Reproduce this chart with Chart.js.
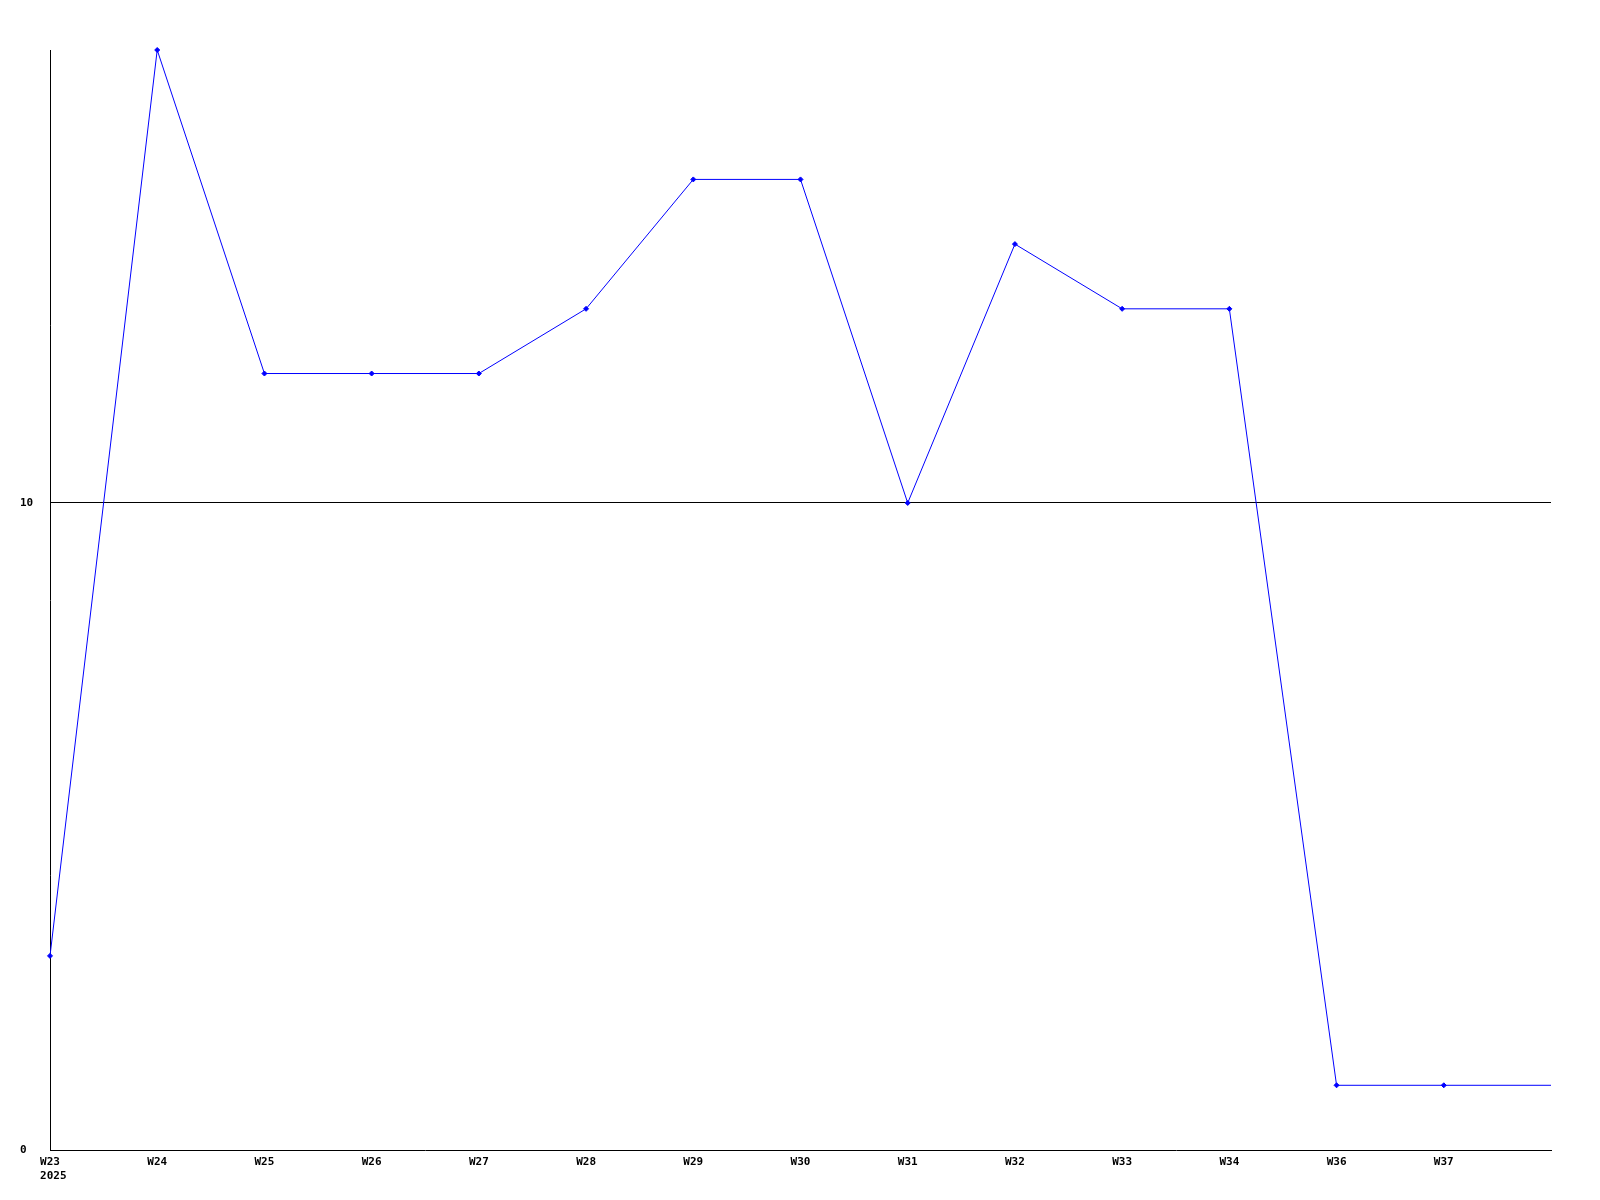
<!DOCTYPE html>
<html lang="en">
<head>
<meta charset="UTF-8">
<script src="https://cdn.jsdelivr.net/npm/chart.js"></script>
<style>
html, body { margin: 0; padding: 0; background: #fff; }
#chart { display: block; }
</style>
</head>
<body>
<canvas id="chart" width="1600" height="1200"></canvas>
<script>
// weeks on the x axis (W35 is absent in the source), last one runs off the right edge
const weeks = ['W23', 'W24', 'W25', 'W26', 'W27', 'W28', 'W29', 'W30', 'W31', 'W32', 'W33', 'W34', 'W36', 'W37', 'W38'];
const values = [3, 17, 12, 12, 12, 13, 15, 15, 10, 14, 13, 13, 1, 1, 1];
const yearLabel = ' 2025';
const yTicks = [0, 10];

const font = { family: 'DejaVu Sans Mono', size: 11, weight: 'bold' };
const last = weeks.length - 1;

new Chart(document.getElementById('chart'), {
    type: 'line',
    data: {
        labels: weeks,
        datasets: [{
            data: values,
            borderColor: '#0000ff',
            backgroundColor: '#0000ff',
            borderWidth: 1,
            tension: 0,
            clip: false,
            pointStyle: 'rectRot',
            pointRadius: ctx => ctx.dataIndex === last ? 0 : 2.5,
            pointBorderWidth: 1
        }]
    },
    options: {
        responsive: false,
        animation: false,
        events: [],
        layout: { padding: { left: 20, top: 50, right: 49, bottom: 0 } },
        plugins: { legend: { display: false }, tooltip: { enabled: false } },
        scales: {
            x: {
                offset: false,
                grid: { display: false, drawTicks: false },
                border: { display: true, color: '#000', width: 1 },
                ticks: {
                    color: '#000',
                    font: font,
                    padding: 6,
                    maxRotation: 0,
                    autoSkip: false,
                    callback: function (v, i) {
                        if (i === last) return '';
                        if (i === 0) return [weeks[i], yearLabel];
                        return weeks[i];
                    }
                },
                afterFit: s => { s.height = 50; }
            },
            y: {
                min: 0,
                max: 17,
                afterBuildTicks: s => { s.ticks = yTicks.map(v => ({ value: v })); },
                grid: {
                    drawTicks: false,
                    lineWidth: 1,
                    color: ctx => (ctx.tick && ctx.tick.value === 10) ? '#000' : 'rgba(0,0,0,0)'
                },
                border: { display: true, color: '#000', width: 1 },
                ticks: {
                    color: '#000',
                    font: font,
                    padding: 0,
                    crossAlign: 'far'
                },
                afterFit: s => { s.width = 30; }
            }
        }
    }
});
</script>
</body>
</html>
